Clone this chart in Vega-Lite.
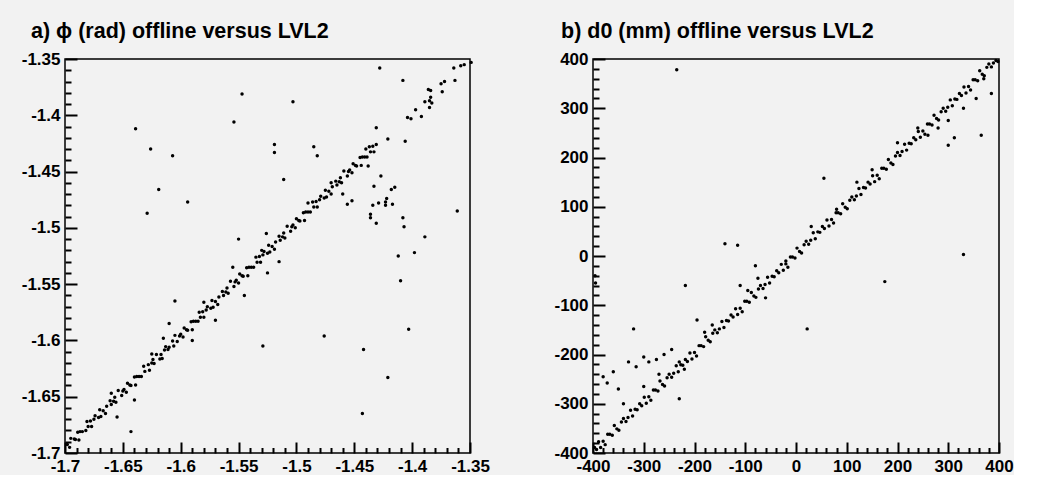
{
  "$schema": "https://vega.github.io/schema/vega-lite/v6.json",
  "background": "#f2f2f2",
  "padding": {"left": 20, "top": 19, "right": 0, "bottom": 0},
  "spacing": 123,
  "bounds": "flush",
  "config": {
    "view": {"stroke": "black", "strokeWidth": 1.5},
    "axis": {"domain": false, "ticks": true, "zindex": 1, "tickColor": "#000000", "tickOpacity": 1, "tickWidth": 2, "labelFont": "Liberation Sans", "labelFontSize": 17, "labelFontWeight": "bold", "labelColor": "black", "grid": false, "labelFlush": false, "labelOverlap": false, "labelPadding": 5},
    "axisX": {"offset": -11, "tickSize": 11},
    "axisY": {"offset": -12, "tickSize": 12},
    "title": {"font": "Liberation Sans", "fontSize": 21.5, "fontWeight": "bold", "color": "black", "anchor": "start", "frame": "group", "dx": -34, "offset": 8, "baseline": "alphabetic"}
  },
  "datasets": {
    "phi": [
      {"x": -1.698, "y": -1.6925}, {"x": -1.696, "y": -1.695}, {"x": -1.695, "y": -1.687}, {"x": -1.692, "y": -1.6875}, {"x": -1.691, "y": -1.688}, {"x": -1.689, "y": -1.6815}, {"x": -1.688, "y": -1.6885}, {"x": -1.687, "y": -1.681}, {"x": -1.685, "y": -1.681}, {"x": -1.682, "y": -1.68}, {"x": -1.681, "y": -1.672}, {"x": -1.68, "y": -1.6765}, {"x": -1.678, "y": -1.6715}, {"x": -1.677, "y": -1.6765}, {"x": -1.675, "y": -1.67}, {"x": -1.674, "y": -1.667}, {"x": -1.671, "y": -1.6685}, {"x": -1.67, "y": -1.6615}, {"x": -1.669, "y": -1.6675}, {"x": -1.667, "y": -1.6625}, {"x": -1.665, "y": -1.665}, {"x": -1.664, "y": -1.6585}, {"x": -1.661, "y": -1.6535}, {"x": -1.66, "y": -1.657}, {"x": -1.658, "y": -1.654}, {"x": -1.657, "y": -1.6505}, {"x": -1.656, "y": -1.655}, {"x": -1.654, "y": -1.6445}, {"x": -1.651, "y": -1.649}, {"x": -1.65, "y": -1.645},
      {"x": -1.649, "y": -1.6435}, {"x": -1.647, "y": -1.646}, {"x": -1.646, "y": -1.638}, {"x": -1.644, "y": -1.6395}, {"x": -1.643, "y": -1.64}, {"x": -1.64, "y": -1.6325}, {"x": -1.639, "y": -1.6395}, {"x": -1.638, "y": -1.632}, {"x": -1.636, "y": -1.632}, {"x": -1.634, "y": -1.632}, {"x": -1.632, "y": -1.623}, {"x": -1.631, "y": -1.6275}, {"x": -1.628, "y": -1.6215}, {"x": -1.627, "y": -1.6265}, {"x": -1.625, "y": -1.62}, {"x": -1.624, "y": -1.617}, {"x": -1.623, "y": -1.6205}, {"x": -1.621, "y": -1.6125}, {"x": -1.618, "y": -1.6165}, {"x": -1.617, "y": -1.6125}, {"x": -1.616, "y": -1.616}, {"x": -1.614, "y": -1.6085}, {"x": -1.613, "y": -1.6055}, {"x": -1.611, "y": -1.608}, {"x": -1.61, "y": -1.606}, {"x": -1.607, "y": -1.6005}, {"x": -1.606, "y": -1.605}, {"x": -1.605, "y": -1.5955}, {"x": -1.603, "y": -1.601}, {"x": -1.601, "y": -1.596},
      {"x": -1.6, "y": -1.5945}, {"x": -1.598, "y": -1.597}, {"x": -1.597, "y": -1.589}, {"x": -1.595, "y": -1.5905}, {"x": -1.594, "y": -1.591}, {"x": -1.591, "y": -1.5835}, {"x": -1.59, "y": -1.5905}, {"x": -1.589, "y": -1.583}, {"x": -1.587, "y": -1.583}, {"x": -1.585, "y": -1.583}, {"x": -1.584, "y": -1.575}, {"x": -1.583, "y": -1.5795}, {"x": -1.581, "y": -1.5745}, {"x": -1.58, "y": -1.5795}, {"x": -1.578, "y": -1.573}, {"x": -1.577, "y": -1.57}, {"x": -1.574, "y": -1.5715}, {"x": -1.573, "y": -1.5645}, {"x": -1.572, "y": -1.5705}, {"x": -1.57, "y": -1.5655}, {"x": -1.568, "y": -1.568}, {"x": -1.567, "y": -1.5615}, {"x": -1.564, "y": -1.5565}, {"x": -1.563, "y": -1.56}, {"x": -1.561, "y": -1.557}, {"x": -1.56, "y": -1.5535}, {"x": -1.559, "y": -1.558}, {"x": -1.557, "y": -1.5475}, {"x": -1.554, "y": -1.552}, {"x": -1.553, "y": -1.548},
      {"x": -1.552, "y": -1.5465}, {"x": -1.55, "y": -1.549}, {"x": -1.549, "y": -1.541}, {"x": -1.547, "y": -1.5425}, {"x": -1.546, "y": -1.543}, {"x": -1.543, "y": -1.5355}, {"x": -1.542, "y": -1.5425}, {"x": -1.541, "y": -1.535}, {"x": -1.539, "y": -1.535}, {"x": -1.537, "y": -1.535}, {"x": -1.535, "y": -1.526}, {"x": -1.534, "y": -1.5305}, {"x": -1.532, "y": -1.5255}, {"x": -1.531, "y": -1.5305}, {"x": -1.529, "y": -1.524}, {"x": -1.528, "y": -1.521}, {"x": -1.525, "y": -1.5225}, {"x": -1.524, "y": -1.5155}, {"x": -1.523, "y": -1.5215}, {"x": -1.521, "y": -1.5165}, {"x": -1.519, "y": -1.519}, {"x": -1.518, "y": -1.5125}, {"x": -1.515, "y": -1.5075}, {"x": -1.514, "y": -1.511}, {"x": -1.512, "y": -1.508}, {"x": -1.511, "y": -1.5045}, {"x": -1.51, "y": -1.509}, {"x": -1.508, "y": -1.4985}, {"x": -1.505, "y": -1.503}, {"x": -1.504, "y": -1.499},
      {"x": -1.503, "y": -1.4975}, {"x": -1.501, "y": -1.5}, {"x": -1.5, "y": -1.492}, {"x": -1.498, "y": -1.4935}, {"x": -1.497, "y": -1.494}, {"x": -1.494, "y": -1.4865}, {"x": -1.493, "y": -1.4935}, {"x": -1.492, "y": -1.486}, {"x": -1.49, "y": -1.486}, {"x": -1.488, "y": -1.486}, {"x": -1.486, "y": -1.477}, {"x": -1.485, "y": -1.4815}, {"x": -1.483, "y": -1.4765}, {"x": -1.482, "y": -1.4815}, {"x": -1.48, "y": -1.475}, {"x": -1.479, "y": -1.472}, {"x": -1.476, "y": -1.4735}, {"x": -1.475, "y": -1.4665}, {"x": -1.474, "y": -1.4725}, {"x": -1.472, "y": -1.4675}, {"x": -1.47, "y": -1.47}, {"x": -1.469, "y": -1.4635}, {"x": -1.466, "y": -1.4585}, {"x": -1.465, "y": -1.462}, {"x": -1.463, "y": -1.459}, {"x": -1.462, "y": -1.4555}, {"x": -1.461, "y": -1.46}, {"x": -1.459, "y": -1.4495}, {"x": -1.456, "y": -1.454}, {"x": -1.455, "y": -1.45},
      {"x": -1.454, "y": -1.4485}, {"x": -1.452, "y": -1.451}, {"x": -1.451, "y": -1.443}, {"x": -1.449, "y": -1.4445}, {"x": -1.448, "y": -1.445}, {"x": -1.445, "y": -1.4375}, {"x": -1.444, "y": -1.4445}, {"x": -1.443, "y": -1.437}, {"x": -1.441, "y": -1.437}, {"x": -1.439, "y": -1.437}, {"x": -1.437, "y": -1.428}, {"x": -1.436, "y": -1.4325}, {"x": -1.434, "y": -1.4275}, {"x": -1.433, "y": -1.4325}, {"x": -1.431, "y": -1.426},
      {"x": -1.349, "y": -1.353}, {"x": -1.355, "y": -1.355}, {"x": -1.358, "y": -1.356}, {"x": -1.364, "y": -1.358}, {"x": -1.363, "y": -1.369}, {"x": -1.372, "y": -1.37}, {"x": -1.375, "y": -1.372}, {"x": -1.374, "y": -1.379}, {"x": -1.386, "y": -1.377}, {"x": -1.384, "y": -1.378}, {"x": -1.384, "y": -1.384}, {"x": -1.385, "y": -1.387}, {"x": -1.383, "y": -1.389}, {"x": -1.389, "y": -1.388}, {"x": -1.385, "y": -1.393}, {"x": -1.397, "y": -1.395}, {"x": -1.404, "y": -1.402}, {"x": -1.401, "y": -1.403}, {"x": -1.392, "y": -1.401},
      {"x": -1.639, "y": -1.412}, {"x": -1.626, "y": -1.43}, {"x": -1.607, "y": -1.436}, {"x": -1.619, "y": -1.466}, {"x": -1.629, "y": -1.487}, {"x": -1.594, "y": -1.477}, {"x": -1.547, "y": -1.381}, {"x": -1.554, "y": -1.406}, {"x": -1.519, "y": -1.426}, {"x": -1.519, "y": -1.433}, {"x": -1.511, "y": -1.457}, {"x": -1.526, "y": -1.505}, {"x": -1.55, "y": -1.51},
      {"x": -1.428, "y": -1.358}, {"x": -1.408, "y": -1.369}, {"x": -1.503, "y": -1.388}, {"x": -1.431, "y": -1.411}, {"x": -1.421, "y": -1.421}, {"x": -1.406, "y": -1.423}, {"x": -1.485, "y": -1.428}, {"x": -1.482, "y": -1.436}, {"x": -1.427, "y": -1.454}, {"x": -1.433, "y": -1.463}, {"x": -1.418, "y": -1.466}, {"x": -1.415, "y": -1.464}, {"x": -1.434, "y": -1.48}, {"x": -1.429, "y": -1.478}, {"x": -1.423, "y": -1.48}, {"x": -1.422, "y": -1.474}, {"x": -1.423, "y": -1.477}, {"x": -1.417, "y": -1.479}, {"x": -1.436, "y": -1.488}, {"x": -1.436, "y": -1.491}, {"x": -1.431, "y": -1.496}, {"x": -1.408, "y": -1.491}, {"x": -1.407, "y": -1.499}, {"x": -1.361, "y": -1.485}, {"x": -1.389, "y": -1.508}, {"x": -1.456, "y": -1.479}, {"x": -1.452, "y": -1.476},
      {"x": -1.529, "y": -1.605}, {"x": -1.476, "y": -1.596}, {"x": -1.442, "y": -1.608}, {"x": -1.421, "y": -1.633}, {"x": -1.403, "y": -1.59}, {"x": -1.41, "y": -1.547}, {"x": -1.443, "y": -1.665}, {"x": -1.643, "y": -1.681}, {"x": -1.398, "y": -1.522}, {"x": -1.412, "y": -1.525},
      {"x": -1.66, "y": -1.647}, {"x": -1.655, "y": -1.668}, {"x": -1.64, "y": -1.653}, {"x": -1.625, "y": -1.612}, {"x": -1.615, "y": -1.598}, {"x": -1.61, "y": -1.585}, {"x": -1.605, "y": -1.565}, {"x": -1.59, "y": -1.6}, {"x": -1.58, "y": -1.566}, {"x": -1.57, "y": -1.582}, {"x": -1.555, "y": -1.535}, {"x": -1.545, "y": -1.56}, {"x": -1.53, "y": -1.52}, {"x": -1.525, "y": -1.54}, {"x": -1.515, "y": -1.53}, {"x": -1.49, "y": -1.478}, {"x": -1.47, "y": -1.46}, {"x": -1.46, "y": -1.47}, {"x": -1.44, "y": -1.43}, {"x": -1.438, "y": -1.445}
    ],
    "d0": [
      {"x": -397, "y": -389}, {"x": -393, "y": -393}, {"x": -389, "y": -377}, {"x": -385, "y": -389}, {"x": -380, "y": -376}, {"x": -376, "y": -383}, {"x": -371, "y": -362}, {"x": -367, "y": -362}, {"x": -362, "y": -364}, {"x": -358, "y": -344}, {"x": -353, "y": -351}, {"x": -349, "y": -354}, {"x": -344, "y": -337}, {"x": -340, "y": -330}, {"x": -335, "y": -336}, {"x": -331, "y": -328}, {"x": -326, "y": -313}, {"x": -322, "y": -325}, {"x": -317, "y": -311}, {"x": -313, "y": -312}, {"x": -308, "y": -300}, {"x": -304, "y": -304}, {"x": -299, "y": -287}, {"x": -295, "y": -299}, {"x": -290, "y": -286}, {"x": -286, "y": -293}, {"x": -281, "y": -272}, {"x": -277, "y": -272}, {"x": -272, "y": -274}, {"x": -268, "y": -254}, {"x": -263, "y": -261}, {"x": -259, "y": -264}, {"x": -254, "y": -247}, {"x": -250, "y": -240}, {"x": -245, "y": -246}, {"x": -241, "y": -238}, {"x": -236, "y": -223}, {"x": -232, "y": -235}, {"x": -227, "y": -221}, {"x": -223, "y": -222}, {"x": -218, "y": -210}, {"x": -214, "y": -214}, {"x": -209, "y": -197}, {"x": -205, "y": -209}, {"x": -200, "y": -196}, {"x": -196, "y": -203}, {"x": -191, "y": -182}, {"x": -187, "y": -182}, {"x": -182, "y": -184}, {"x": -178, "y": -164}, {"x": -173, "y": -171}, {"x": -169, "y": -174}, {"x": -164, "y": -157}, {"x": -160, "y": -150}, {"x": -155, "y": -156}, {"x": -151, "y": -148}, {"x": -146, "y": -133}, {"x": -142, "y": -145}, {"x": -137, "y": -131}, {"x": -133, "y": -132}, {"x": -128, "y": -120}, {"x": -124, "y": -124}, {"x": -119, "y": -107}, {"x": -115, "y": -119}, {"x": -110, "y": -106}, {"x": -106, "y": -113}, {"x": -101, "y": -92}, {"x": -97, "y": -92}, {"x": -92, "y": -94}, {"x": -88, "y": -74}, {"x": -83, "y": -81}, {"x": -79, "y": -84}, {"x": -74, "y": -67}, {"x": -70, "y": -60}, {"x": -65, "y": -66}, {"x": -61, "y": -58}, {"x": -56, "y": -43}, {"x": -52, "y": -55}, {"x": -47, "y": -41}, {"x": -43, "y": -42}, {"x": -38, "y": -30}, {"x": -34, "y": -34}, {"x": -29, "y": -17}, {"x": -25, "y": -29}, {"x": -20, "y": -16}, {"x": -16, "y": -23}, {"x": -11, "y": -2}, {"x": -7, "y": -2}, {"x": -2, "y": -4}, {"x": 2, "y": 16}, {"x": 7, "y": 9}, {"x": 11, "y": 6}, {"x": 16, "y": 23}, {"x": 20, "y": 30}, {"x": 25, "y": 24}, {"x": 29, "y": 32}, {"x": 34, "y": 47}, {"x": 38, "y": 35}, {"x": 43, "y": 49}, {"x": 47, "y": 48}, {"x": 52, "y": 60}, {"x": 56, "y": 56}, {"x": 61, "y": 73}, {"x": 65, "y": 61}, {"x": 70, "y": 74}, {"x": 74, "y": 67}, {"x": 79, "y": 88}, {"x": 83, "y": 88}, {"x": 88, "y": 86}, {"x": 92, "y": 106}, {"x": 97, "y": 99}, {"x": 101, "y": 96}, {"x": 106, "y": 113}, {"x": 110, "y": 120}, {"x": 115, "y": 114}, {"x": 119, "y": 122}, {"x": 124, "y": 137}, {"x": 128, "y": 125}, {"x": 133, "y": 139}, {"x": 137, "y": 138}, {"x": 142, "y": 150}, {"x": 146, "y": 146}, {"x": 151, "y": 163}, {"x": 155, "y": 151}, {"x": 160, "y": 164}, {"x": 164, "y": 157}, {"x": 169, "y": 178}, {"x": 173, "y": 178}, {"x": 178, "y": 176}, {"x": 182, "y": 196}, {"x": 187, "y": 189}, {"x": 191, "y": 186}, {"x": 196, "y": 203}, {"x": 200, "y": 210}, {"x": 205, "y": 204}, {"x": 209, "y": 212}, {"x": 214, "y": 227}, {"x": 218, "y": 215}, {"x": 223, "y": 229}, {"x": 227, "y": 228}, {"x": 232, "y": 240}, {"x": 236, "y": 236}, {"x": 241, "y": 253}, {"x": 245, "y": 241}, {"x": 250, "y": 254}, {"x": 254, "y": 247}, {"x": 259, "y": 268}, {"x": 263, "y": 268}, {"x": 268, "y": 266}, {"x": 272, "y": 286}, {"x": 277, "y": 279}, {"x": 281, "y": 276}, {"x": 286, "y": 293}, {"x": 290, "y": 300}, {"x": 295, "y": 294}, {"x": 299, "y": 302}, {"x": 304, "y": 317}, {"x": 308, "y": 305}, {"x": 313, "y": 319}, {"x": 317, "y": 318}, {"x": 322, "y": 330}, {"x": 326, "y": 326}, {"x": 331, "y": 343}, {"x": 335, "y": 331}, {"x": 340, "y": 344}, {"x": 344, "y": 337}, {"x": 349, "y": 358}, {"x": 353, "y": 358}, {"x": 358, "y": 356}, {"x": 362, "y": 376}, {"x": 367, "y": 369}, {"x": 371, "y": 366}, {"x": 376, "y": 383}, {"x": 380, "y": 390}, {"x": 385, "y": 384}, {"x": 389, "y": 392}, {"x": 394, "y": 397}, {"x": 398, "y": 395},
      {"x": -396, "y": -40}, {"x": -395, "y": -55}, {"x": -235, "y": 378}, {"x": -140, "y": 25}, {"x": -115, "y": 22}, {"x": -218, "y": -60}, {"x": -320, "y": -148}, {"x": -80, "y": -20}, {"x": 55, "y": 158}, {"x": 22, "y": -148}, {"x": 175, "y": -52}, {"x": 330, "y": 3}, {"x": 365, "y": 245}, {"x": 300, "y": 225}, {"x": 312, "y": 240}, {"x": 280, "y": 260},
      {"x": -380, "y": -245}, {"x": -372, "y": -258}, {"x": -360, "y": -235}, {"x": -350, "y": -270}, {"x": -330, "y": -215}, {"x": -315, "y": -225}, {"x": -300, "y": -205}, {"x": -290, "y": -215}, {"x": -275, "y": -210}, {"x": -260, "y": -200}, {"x": -245, "y": -190}, {"x": -230, "y": -215}, {"x": -220, "y": -230}, {"x": -230, "y": -290}, {"x": -300, "y": -265}, {"x": -340, "y": -300}, {"x": -270, "y": -240}, {"x": -195, "y": -130}, {"x": -180, "y": -155}, {"x": -165, "y": -140}, {"x": -110, "y": -60}, {"x": -95, "y": -70}, {"x": -75, "y": -45}, {"x": -60, "y": -85}, {"x": -20, "y": -10}, {"x": 30, "y": 60}, {"x": 80, "y": 95}, {"x": 120, "y": 150}, {"x": 150, "y": 175}, {"x": 200, "y": 230}, {"x": 240, "y": 260}, {"x": 260, "y": 245}, {"x": 300, "y": 275}, {"x": 330, "y": 300}, {"x": 355, "y": 320}, {"x": 370, "y": 360}, {"x": 385, "y": 330}
    ]
  },
  "hconcat": [
    {
      "width": 405,
      "height": 394,
      "title": {"text": "a) ϕ (rad) offline versus LVL2"},
      "data": {"name": "phi"},
      "layer": [
        {
          "mark": {"type": "circle", "size": 12, "color": "black", "opacity": 1},
          "encoding": {
            "x": {"field": "x", "type": "quantitative", "scale": {"domain": [-1.7, -1.35], "nice": false, "zero": false},
              "axis": {"orient": "bottom", "title": null, "values": [-1.7, -1.65, -1.6, -1.55, -1.5, -1.45, -1.4, -1.35], "labelExpr": "'' + datum.value"}},
            "y": {"field": "y", "type": "quantitative", "scale": {"domain": [-1.7, -1.35], "nice": false, "zero": false},
              "axis": {"orient": "left", "title": null, "values": [-1.7, -1.65, -1.6, -1.55, -1.5, -1.45, -1.4, -1.35], "labelExpr": "'' + datum.value"}}
          }
        },
        {
          "mark": {"type": "circle", "opacity": 0},
          "encoding": {
            "x": {"field": "x", "type": "quantitative", "axis": {"orient": "bottom", "title": null, "offset": -5.5, "tickSize": 5.5, "labels": false, "values": [-1.69, -1.68, -1.67, -1.66, -1.64, -1.63, -1.62, -1.61, -1.59, -1.58, -1.57, -1.56, -1.54, -1.53, -1.52, -1.51, -1.49, -1.48, -1.47, -1.46, -1.44, -1.43, -1.42, -1.41, -1.39, -1.38, -1.37, -1.36]}},
            "y": {"field": "y", "type": "quantitative", "axis": {"orient": "left", "title": null, "offset": -6, "tickSize": 6, "labels": false, "values": [-1.69, -1.68, -1.67, -1.66, -1.64, -1.63, -1.62, -1.61, -1.59, -1.58, -1.57, -1.56, -1.54, -1.53, -1.52, -1.51, -1.49, -1.48, -1.47, -1.46, -1.44, -1.43, -1.42, -1.41, -1.39, -1.38, -1.37, -1.36]}}
          }
        }
      ],
      "resolve": {"axis": {"x": "independent", "y": "independent"}}
    },
    {
      "width": 406,
      "height": 394,
      "title": {"text": "b) d0 (mm) offline versus LVL2", "dx": -32},
      "data": {"name": "d0"},
      "layer": [
        {
          "mark": {"type": "circle", "size": 12, "color": "black", "opacity": 1},
          "encoding": {
            "x": {"field": "x", "type": "quantitative", "scale": {"domain": [-400, 400], "nice": false, "zero": false},
              "axis": {"orient": "bottom", "title": null, "values": [-400, -300, -200, -100, 0, 100, 200, 300, 400], "labelExpr": "'' + datum.value"}},
            "y": {"field": "y", "type": "quantitative", "scale": {"domain": [-400, 400], "nice": false, "zero": false},
              "axis": {"orient": "left", "title": null, "values": [-400, -300, -200, -100, 0, 100, 200, 300, 400], "labelExpr": "'' + datum.value"}}
          }
        },
        {
          "mark": {"type": "circle", "opacity": 0},
          "encoding": {
            "x": {"field": "x", "type": "quantitative", "axis": {"orient": "bottom", "title": null, "offset": -5.5, "tickSize": 5.5, "labels": false, "values": [-380, -360, -340, -320, -280, -260, -240, -220, -180, -160, -140, -120, -80, -60, -40, -20, 20, 40, 60, 80, 120, 140, 160, 180, 220, 240, 260, 280, 320, 340, 360, 380]}},
            "y": {"field": "y", "type": "quantitative", "axis": {"orient": "left", "title": null, "offset": -6, "tickSize": 6, "labels": false, "values": [-380, -360, -340, -320, -280, -260, -240, -220, -180, -160, -140, -120, -80, -60, -40, -20, 20, 40, 60, 80, 120, 140, 160, 180, 220, 240, 260, 280, 320, 340, 360, 380]}}
          }
        }
      ],
      "resolve": {"axis": {"x": "independent", "y": "independent"}}
    }
  ]
}
